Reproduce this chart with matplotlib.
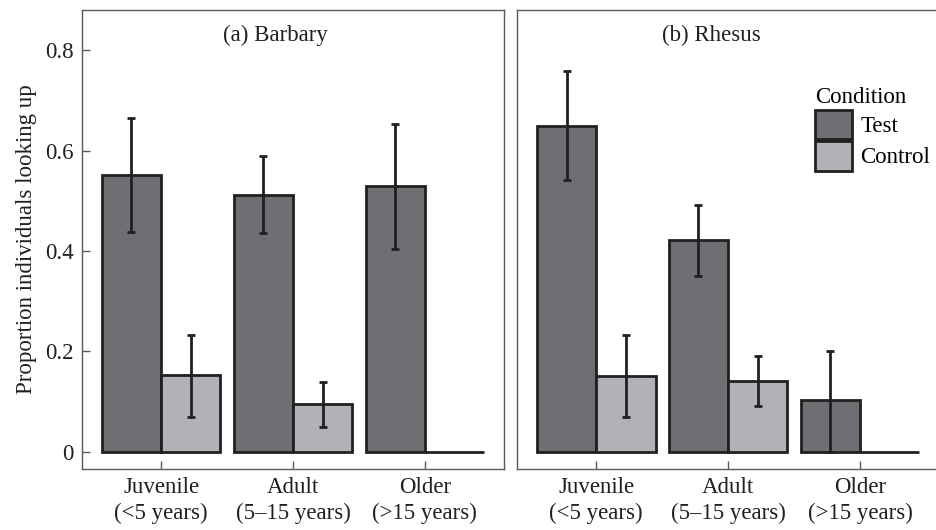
import numpy as np
import matplotlib
matplotlib.use("Agg")
import matplotlib.pyplot as plt
from matplotlib.patches import Patch

plt.rcParams['font.family'] = ['Liberation Serif', 'DejaVu Serif']
plt.rcParams['font.size'] = 16.5

groups = ["Juvenile\n(<5 years)", "Adult\n(5\u201315 years)", "Older\n(>15 years)"]
conditions = ["Test", "Control"]

# (a) Barbary
barbary_test = [0.551, 0.511, 0.529]
barbary_test_lo = [0.437, 0.436, 0.405]
barbary_test_hi = [0.664, 0.589, 0.654]
barbary_ctrl = [0.153, 0.096, 0.0]
barbary_ctrl_lo = [0.070, 0.050, 0.0]
barbary_ctrl_hi = [0.233, 0.140, 0.0]

# (b) Rhesus
rhesus_test = [0.649, 0.422, 0.103]
rhesus_test_lo = [0.541, 0.350, 0.0]
rhesus_test_hi = [0.758, 0.492, 0.201]
rhesus_ctrl = [0.152, 0.142, 0.0]
rhesus_ctrl_lo = [0.070, 0.092, 0.0]
rhesus_ctrl_hi = [0.233, 0.191, 0.0]

colors = {"Test": "#6e6f73", "Control": "#b1b2b5"}
edge = "#231f20"
frame = "#5a5b5d"


def panel(ax, title, test, tlo, thi, ctrl, clo, chi, show_y):
	x = np.arange(1, len(groups) + 1)
	w = 0.45
	sets = [(test, tlo, thi, -w / 2, "Test"), (ctrl, clo, chi, w / 2, "Control")]
	for vals, lo, hi, off, name in sets:
		vals = np.array(vals)
		ax.bar(x + off, vals, width=w, color=colors[name], edgecolor=edge,
			linewidth=2.0, zorder=2)
		err = [vals - np.array(lo), np.array(hi) - vals]
		keep = np.array(hi) > 0
		ax.errorbar((x + off)[keep], vals[keep], yerr=[err[0][keep], err[1][keep]],
			fmt='none', ecolor=edge, elinewidth=2.0, capsize=3, capthick=2.0, zorder=3)

	ax.set_xlim(0.4, 3.6)
	ax.set_ylim(-0.034, 0.88)
	ax.set_xticks(x)
	ax.set_xticklabels(groups, linespacing=1.25)
	ax.set_yticks([0, 0.2, 0.4, 0.6, 0.8])
	ax.set_yticklabels(["0", "0.2", "0.4", "0.6", "0.8"])
	ax.tick_params(axis='both', direction='in', length=6, width=1, color=frame,
		pad=6, labelcolor='#231f20')
	if not show_y:
		ax.tick_params(axis='y', length=0, labelleft=False)
	for s in ax.spines.values():
		s.set_color(frame)
		s.set_linewidth(1.0)
	ax.text(1.87, 0.83, title, ha='center', va='center', color='#231f20')


fig = plt.figure(figsize=(9.36, 5.30), dpi=100)
ax1 = fig.add_axes([0.0876, 0.1151, 0.4509, 0.866])
ax2 = fig.add_axes([0.5524, 0.1151, 0.4509, 0.866])

panel(ax1, "(a) Barbary", barbary_test, barbary_test_lo, barbary_test_hi,
	barbary_ctrl, barbary_ctrl_lo, barbary_ctrl_hi, True)
panel(ax2, "(b) Rhesus", rhesus_test, rhesus_test_lo, rhesus_test_hi,
	rhesus_ctrl, rhesus_ctrl_lo, rhesus_ctrl_hi, False)

ax1.set_ylabel("Proportion individuals looking up", color='#231f20', labelpad=6)

handles = [Patch(facecolor=colors[c], edgecolor=edge, linewidth=2.0, label=c) for c in conditions]
leg = ax2.legend(handles=handles, title="Condition", loc='upper left',
	bbox_to_anchor=(0.678, 0.857), frameon=False, borderpad=0, handlelength=1.65,
	handleheight=1.6, labelspacing=0.08, handletextpad=0.35, alignment='left',
	title_fontsize=16.5)

fig.savefig("out.png", dpi=100)
